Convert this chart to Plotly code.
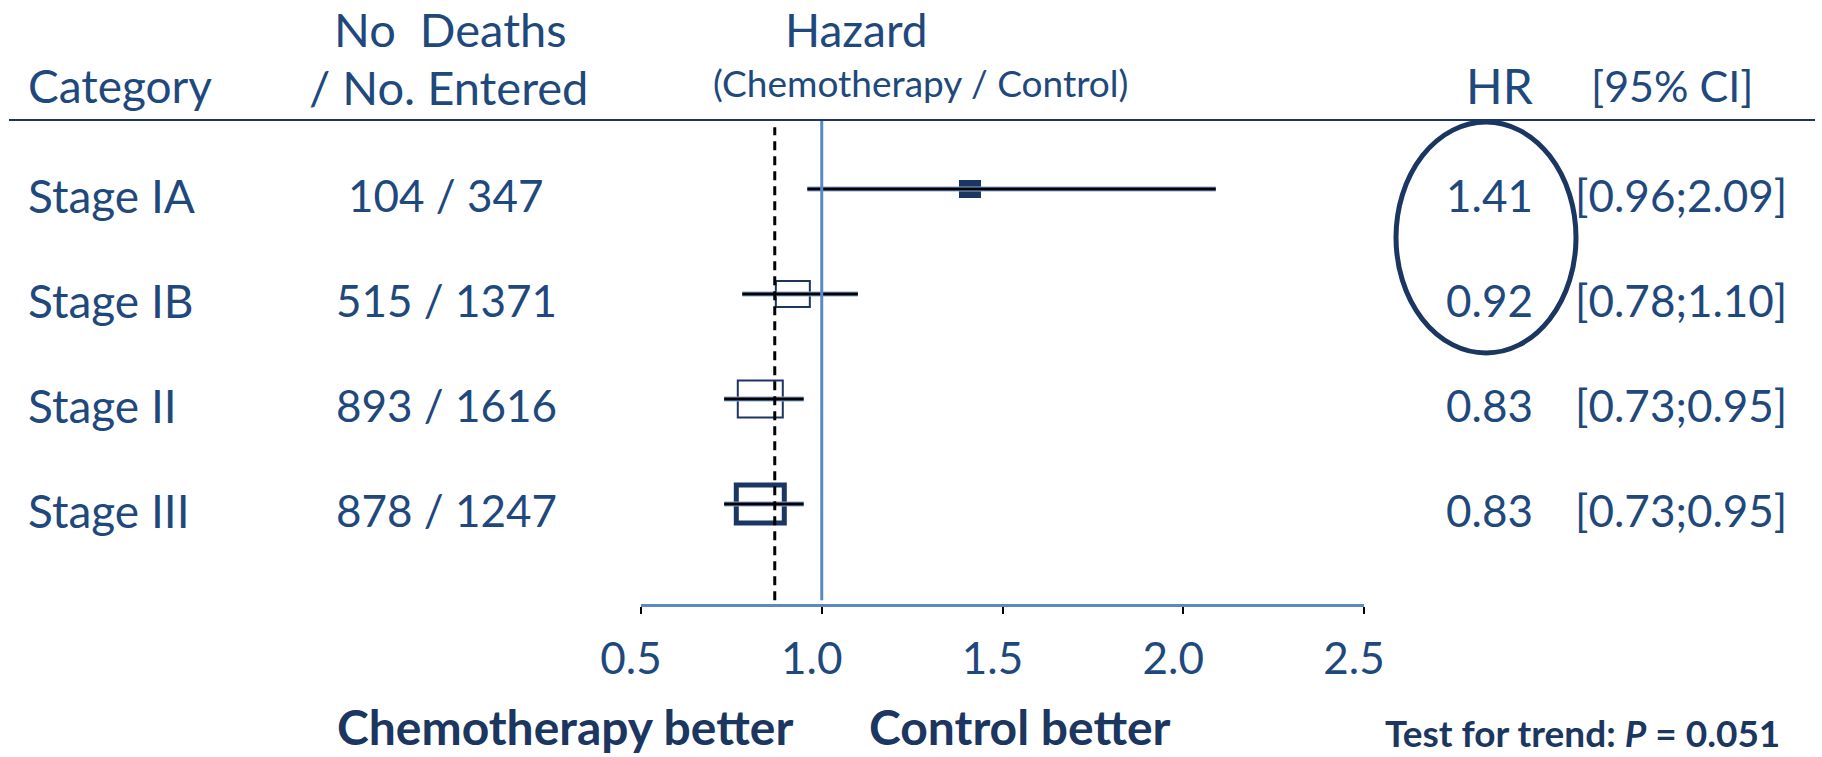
import plotly.graph_objects as go

# Forest plot: overall survival by stage, chemotherapy vs control
categories = ["Stage IA", "Stage IB", "Stage II", "Stage III"]
deaths = [104, 515, 893, 878]
entered = [347, 1371, 1616, 1247]
hr = [1.41, 0.92, 0.83, 0.83]
ci_lo = [0.96, 0.78, 0.73, 0.73]
ci_hi = [2.09, 1.10, 0.95, 0.95]
pooled_hr = 0.87
x_ticks = [0.5, 1.0, 1.5, 2.0, 2.5]
x_tick_labels = ["0.5", "1.0", "1.5", "2.0", "2.5"]
trend_p = "0.051"

# box styling per row: (width px, height px, border px)
box_style = [(15, 11, 7), (34, 26, 2), (45, 37, 2), (48, 38, 5)]

W, H = 1822, 757
FONT = "Lato"
TXT = "#1F497D"
NAVY = "#1B3660"
BLUE = "#5A8AC6"


def px(x):
    return x / W


def py(y):
    return 1 - y / H


n = len(categories)
rows = [n - i for i in range(n)]  # top row first

fig = go.Figure()

# confidence-interval whiskers: soft blue halo under a black line
ci_x, ci_y = [], []
for lo, hi, r in zip(ci_lo, ci_hi, rows):
    ci_x += [lo, hi, None]
    ci_y += [r, r, None]
fig.add_trace(go.Scatter(x=ci_x, y=ci_y, mode="lines",
                         line=dict(color="#86AADC", width=5),
                         hoverinfo="skip", showlegend=False))
fig.add_trace(go.Scatter(x=ci_x, y=ci_y, mode="lines",
                         line=dict(color="black", width=3),
                         hoverinfo="skip", showlegend=False))

shapes = []
# boxes at the hazard ratio estimates
for (bw, bh, lw), h, r in zip(box_style, hr, rows):
    shapes.append(dict(type="rect", layer="below", xref="x", yref="y",
                       xsizemode="pixel", ysizemode="pixel",
                       xanchor=h, yanchor=r,
                       x0=-bw / 2, x1=bw / 2, y0=-bh / 2, y1=bh / 2,
                       line=dict(color=NAVY, width=lw),
                       fillcolor="rgba(0,0,0,0)"))

# pooled estimate (dashed) and line of no effect
shapes.append(dict(type="line", xref="x", yref="y domain",
                   x0=pooled_hr, x1=pooled_hr, y0=0.008, y1=0.985,
                   line=dict(color="black", width=3, dash="9px,6px"),
                   layer="above"))
shapes.append(dict(type="line", xref="x", yref="y domain",
                   x0=1.0, x1=1.0, y0=0.008, y1=1.0,
                   line=dict(color=BLUE, width=3), layer="above"))

# header rule
shapes.append(dict(type="line", xref="paper", yref="paper",
                   x0=px(9), x1=px(1815), y0=py(120), y1=py(120),
                   line=dict(color=NAVY, width=2)))

# highlight ring around the stage I hazard ratios
shapes.append(dict(type="circle", xref="paper", yref="paper",
                   x0=px(1396), x1=px(1576), y0=py(353), y1=py(122),
                   line=dict(color=NAVY, width=5)))

ann = []


def text(x, y, s, size=44, anchor="center", color=TXT, xref="paper",
         yref="paper", yshift=0, vanchor="middle"):
    ann.append(dict(x=x, y=y, xref=xref, yref=yref, text=s, showarrow=False,
                    xanchor=anchor, yanchor=vanchor, yshift=yshift,
                    font=dict(family=FONT, size=size, color=color)))


# column headers
text(px(26), py(85), "Category", size=46, anchor="left")
text(px(450), py(29), "No\u00a0\u00a0Deaths", size=47)
text(px(448), py(87), "/ No. Entered", size=47)
text(px(856), py(29), "Hazard", size=46)
text(px(921), py(82), "(Chemotherapy / Control)", size=37)
text(px(1499), py(85), "HR", size=48)
text(px(1672), py(85), "[95% CI]", size=43)

# table rows
for cat, d, e, h, lo, hi, r in zip(categories, deaths, entered, hr,
                                   ci_lo, ci_hi, rows):
    text(px(26), r, cat, size=46, anchor="left", yref="y", yshift=-6)
    text(px(446), r, f"{d} / {e}", yref="y", yshift=-6)
    text(px(1535), r, f"{h:.2f}", anchor="right", yref="y", yshift=-6)
    text(px(1573), r, f"[{lo:.2f};{hi:.2f}]", anchor="left", yref="y",
         yshift=-6)

# footer
text(px(565), py(726), "<b>Chemotherapy better</b>", size=48, color=NAVY)
text(px(1020), py(726), "<b>Control better</b>", size=48, color=NAVY)
text(px(1582), 0, f"<b>Test for trend: <i>P</i> = {trend_p}</b>",
     size=37, color=NAVY, vanchor="bottom")

# row spacing: 105 px per row, rows centred at 189 .. 504 px
y_top = rows[0] + (189 - 120) / 105
y_bot = rows[-1] - (604 - 504) / 105

fig.update_layout(
    width=W, height=H,
    margin=dict(l=0, r=0, t=0, b=0, autoexpand=False),
    paper_bgcolor="white", plot_bgcolor="white",
    shapes=shapes, annotations=ann,
    xaxis=dict(domain=[px(641), px(1364)], range=[0.5, 2.5],
               tickvals=x_ticks, ticktext=x_tick_labels,
               showline=True, linecolor=BLUE, linewidth=3,
               ticks="outside", ticklen=7, tickwidth=2, tickcolor="black",
               tickfont=dict(family=FONT, size=44, color=TXT),
               ticklabelstandoff=7, ticklabelshift=-10,
               showgrid=False, zeroline=False, fixedrange=True,
               automargin=False),
    yaxis=dict(domain=[py(604), py(120)], range=[y_bot, y_top],
               visible=False, fixedrange=True, automargin=False),
)

fig.write_html("out.html")
